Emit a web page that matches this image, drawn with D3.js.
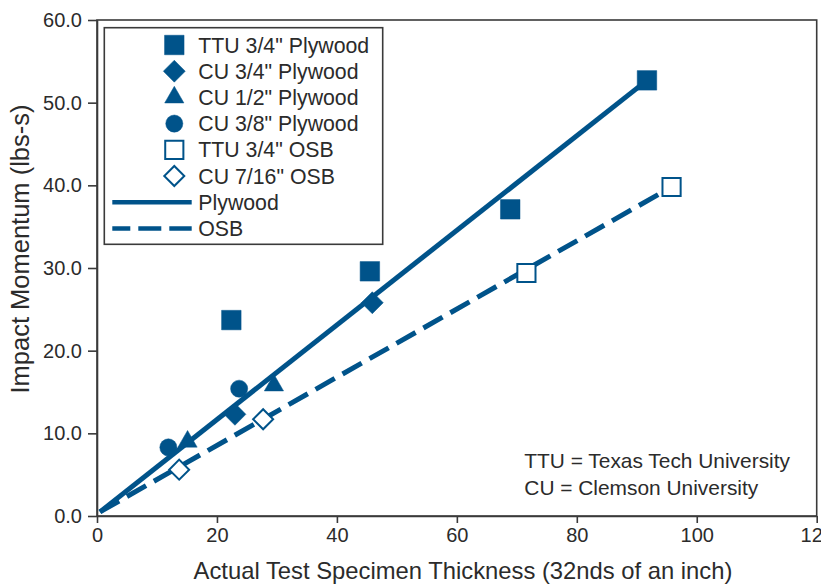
<!DOCTYPE html>
<html>
<head>
<meta charset="utf-8">
<script src="https://cdn.jsdelivr.net/npm/d3@7"></script>
<style>
  html, body { margin: 0; padding: 0; background: #fff; }
  svg { display: block; font-family: "Liberation Sans", Arial, Helvetica, sans-serif; }
</style>
</head>
<body>
<svg id="chart" width="821" height="586"></svg>
<script>
// Impact momentum vs. specimen thickness, plywood and OSB panels
const ttuPly34X = [22.4, 45.5, 68.9, 91.7];
const ttuPly34Y = [23.7, 29.6, 37.1, 52.7];
const cuPly34X = [23.0, 45.9];
const cuPly34Y = [12.3, 25.8];
const cuPly12X = [15.1, 29.5];
const cuPly12Y = [9.0, 15.8];
const cuPly38X = [11.9, 23.7];
const cuPly38Y = [8.3, 15.4];
const ttuOsb34X = [71.6, 95.8];
const ttuOsb34Y = [29.4, 39.8];
const cuOsb716X = [13.7, 27.7];
const cuOsb716Y = [5.6, 11.7];

// fitted trend lines (end points)
const plywoodFitX = [0.5, 91.7];
const plywoodFitY = [0.5, 52.7];
const osbFitX = [0.5, 95.8];
const osbFitY = [0.5, 39.8];

const xTicks = [0, 20, 40, 60, 80, 100, 120];
const yTicks = [0, 10, 20, 30, 40, 50, 60];

const seriesNames = ['TTU 3/4" Plywood', 'CU 3/4" Plywood', 'CU 1/2" Plywood', 'CU 3/8" Plywood',
                     'TTU 3/4" OSB', 'CU 7/16" OSB'];
const lineNames = ['Plywood', 'OSB'];
const notes = ['TTU = Texas Tech University', 'CU = Clemson University'];

const BLUE = '#00538a';
const INK = '#2b2b2b';

const svg = d3.select('#chart');
const plotLeft = 97, plotRight = 816.7, plotTop = 20, plotBottom = 516;

const x = d3.scaleLinear().domain([0, 120]).range([plotLeft, plotRight]);
const y = d3.scaleLinear().domain([0, 60]).range([plotBottom, plotTop]);

// plot frame
svg.append('rect')
  .attr('x', plotLeft).attr('y', plotTop)
  .attr('width', plotRight - plotLeft).attr('height', plotBottom - plotTop)
  .attr('fill', 'none').attr('stroke', '#3a3a3a').attr('stroke-width', 1.6);

// axes
const yAxis = svg.append('g').attr('transform', `translate(${plotLeft},0)`)
  .call(d3.axisLeft(y).tickValues(yTicks).tickFormat(d3.format('.1f')).tickSize(9).tickSizeOuter(0).tickPadding(6));
const xAxis = svg.append('g').attr('transform', `translate(0,${plotBottom})`)
  .call(d3.axisBottom(x).tickValues(xTicks).tickFormat(d3.format('d')).tickSize(7).tickSizeOuter(0).tickPadding(5));
[xAxis, yAxis].forEach(g => {
  g.select('.domain').attr('stroke', '#3a3a3a').attr('stroke-width', 1.6);
  g.selectAll('.tick line').attr('stroke', '#3a3a3a').attr('stroke-width', 1.6);
  g.selectAll('.tick text').attr('fill', INK).style('font-size', '20px')
    .style('font-family', '"Liberation Sans", Arial, sans-serif');
});

// axis titles
svg.append('text')
  .attr('x', 463).attr('y', 579)
  .attr('text-anchor', 'middle').attr('fill', INK)
  .style('font-size', '23.8px')
  .text('Actual Test Specimen Thickness (32nds of an inch)');
svg.append('text')
  .attr('transform', 'translate(29,249) rotate(-90)')
  .attr('text-anchor', 'middle').attr('fill', INK)
  .style('font-size', '25.5px')
  .text('Impact Momentum (lbs-s)');

// trend lines
const line = d3.line().x(d => x(d[0])).y(d => y(d[1]));
svg.append('path')
  .datum(d3.zip(plywoodFitX, plywoodFitY))
  .attr('d', line).attr('fill', 'none')
  .attr('stroke', BLUE).attr('stroke-width', 5);
svg.append('path')
  .datum(d3.zip(osbFitX, osbFitY))
  .attr('d', line).attr('fill', 'none')
  .attr('stroke', BLUE).attr('stroke-width', 5)
  .attr('stroke-dasharray', '22,9');

// marker shapes
const markers = [
  { type: d3.symbolSquare, size: 380, rot: 0, open: false },
  { type: d3.symbolSquare, size: 240, rot: 45, open: false },
  { type: d3.symbolTriangle, size: 160, rot: 0, open: false },
  { type: d3.symbolCircle, size: 230, rot: 0, open: false },
  { type: d3.symbolSquare, size: 330, rot: 0, open: true },
  { type: d3.symbolSquare, size: 200, rot: 45, open: true }
];
const seriesX = [ttuPly34X, cuPly34X, cuPly12X, cuPly38X, ttuOsb34X, cuOsb716X];
const seriesY = [ttuPly34Y, cuPly34Y, cuPly12Y, cuPly38Y, ttuOsb34Y, cuOsb716Y];

function drawMarker(g, m, cx, cy) {
  g.append('path')
    .attr('d', d3.symbol().type(m.type).size(m.size)())
    .attr('transform', `translate(${cx},${cy}) rotate(${m.rot})`)
    .attr('fill', m.open ? '#fff' : BLUE)
    .attr('stroke', BLUE)
    .attr('stroke-width', m.open ? 2 : 0.5);
}

const pts = svg.append('g');
seriesX.forEach((xs, i) => {
  xs.forEach((xv, j) => drawMarker(pts, markers[i], x(xv), y(seriesY[i][j])));
});

// legend
const lg = svg.append('g');
lg.append('rect')
  .attr('x', 104.3).attr('y', 27.7).attr('width', 278.4).attr('height', 216.6)
  .attr('fill', '#fff').attr('stroke', '#3a3a3a').attr('stroke-width', 1.6);
const rowY = i => 45 + i * 26.2;
seriesNames.forEach((name, i) => {
  drawMarker(lg, markers[i], 174.3, rowY(i));
  lg.append('text').attr('x', 198.3).attr('y', rowY(i)).attr('dy', '0.36em')
    .attr('fill', INK).style('font-size', '21.3px').text(name);
});
lineNames.forEach((name, k) => {
  const i = seriesNames.length + k;
  lg.append('line')
    .attr('x1', 112.3).attr('x2', 191.7).attr('y1', rowY(i)).attr('y2', rowY(i))
    .attr('stroke', BLUE).attr('stroke-width', 4.5)
    .attr('stroke-dasharray', k === 1 ? '23,8' : null)
    .attr('stroke-dashoffset', k === 1 ? 5 : null);
  lg.append('text').attr('x', 198.3).attr('y', rowY(i)).attr('dy', '0.36em')
    .attr('fill', INK).style('font-size', '21.3px').text(name);
});

// abbreviations note
notes.forEach((t, i) => {
  svg.append('text').attr('x', 524.3).attr('y', 468.3 + i * 26.7)
    .attr('fill', INK).style('font-size', '20.9px').text(t);
});
</script>
</body>
</html>
